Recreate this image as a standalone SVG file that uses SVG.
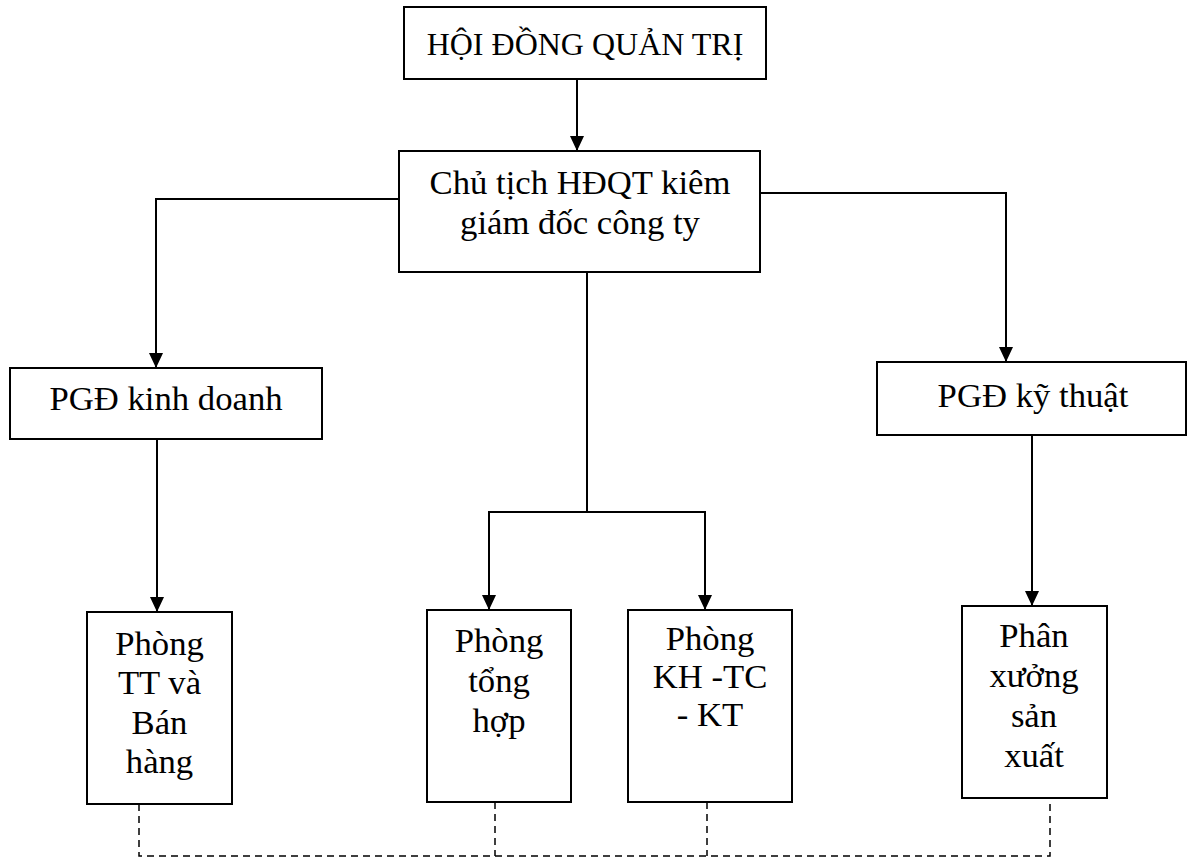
<svg xmlns="http://www.w3.org/2000/svg" width="1188" height="859" viewBox="0 0 1188 859">
<defs>
<marker id="arr" markerUnits="userSpaceOnUse" markerWidth="16" markerHeight="14" refX="15" refY="7" orient="auto">
<path d="M0,0 L15,7 L0,14 z" fill="#000"/>
</marker>
<style>
.box{fill:#fff;stroke:#000;stroke-width:2}
.t{font-family:"Liberation Serif","Times New Roman",serif;font-size:34.7px;fill:#000;text-anchor:middle}
.t32{font-size:32px}
.ln{fill:none;stroke:#000;stroke-width:2}
.ar{marker-end:url(#arr)}
.dash{fill:none;stroke:#000;stroke-width:1.5;stroke-dasharray:7 5}
</style>
</defs>
<rect width="1188" height="859" fill="#fff"/>
<g id="connectors">
<line class="ln ar" x1="577" y1="79" x2="577" y2="151"/>
<polyline class="ln ar" points="399,199 156,199 156,368"/>
<polyline class="ln ar" points="760,193 1006,193 1006,362"/>
<line class="ln" x1="587" y1="272" x2="587" y2="512"/>
<polyline class="ln ar" points="587,512 489,512 489,610"/>
<polyline class="ln ar" points="587,512 705,512 705,610"/>
<line class="ln ar" x1="157" y1="440" x2="157" y2="612"/>
<line class="ln ar" x1="1032" y1="435" x2="1032" y2="606"/>
<polyline class="dash" points="139,804 139,856 1050,856 1050,798"/>
<line class="dash" x1="495" y1="802" x2="495" y2="856"/>
<line class="dash" x1="707" y1="802" x2="707" y2="856"/>
</g>
<g id="n_hdqt">
<rect class="box" x="404" y="7" width="362" height="72"/>
<text class="t t32" x="585" y="55">HỘI ĐỒNG QUẢN TRỊ</text>
</g>
<g id="n_chutich">
<rect class="box" x="399" y="151" width="361" height="121"/>
<text class="t" x="580" y="194">Chủ tịch HĐQT kiêm</text>
<text class="t" x="580" y="234">giám đốc công ty</text>
</g>
<g id="n_pgdkd">
<rect class="box" x="10" y="368" width="312" height="71"/>
<text class="t" x="166" y="410">PGĐ kinh doanh</text>
</g>
<g id="n_pgdkt">
<rect class="box" x="877" y="362" width="309" height="73"/>
<text class="t" x="1033" y="407">PGĐ kỹ thuật</text>
</g>
<g id="n_ttbh">
<rect class="box" x="87" y="612" width="145" height="192"/>
<text class="t" x="159.5" y="655">Phòng</text>
<text class="t" x="159.5" y="694">TT và</text>
<text class="t" x="159.5" y="734">Bán</text>
<text class="t" x="159.5" y="773">hàng</text>
</g>
<g id="n_tonghop">
<rect class="box" x="427" y="610" width="144" height="192"/>
<text class="t" x="499" y="652">Phòng</text>
<text class="t" x="499" y="692">tổng</text>
<text class="t" x="499" y="732">hợp</text>
</g>
<g id="n_khtc">
<rect class="box" x="628" y="610" width="164" height="192"/>
<text class="t" x="710" y="650">Phòng</text>
<text class="t" x="710" y="688">KH -TC</text>
<text class="t" x="710" y="726">- KT</text>
</g>
<g id="n_phanxuong">
<rect class="box" x="962" y="606" width="145" height="192"/>
<text class="t" x="1034" y="647">Phân</text>
<text class="t" x="1034" y="687">xưởng</text>
<text class="t" x="1034" y="727">sản</text>
<text class="t" x="1034" y="767">xuất</text>
</g>
</svg>
